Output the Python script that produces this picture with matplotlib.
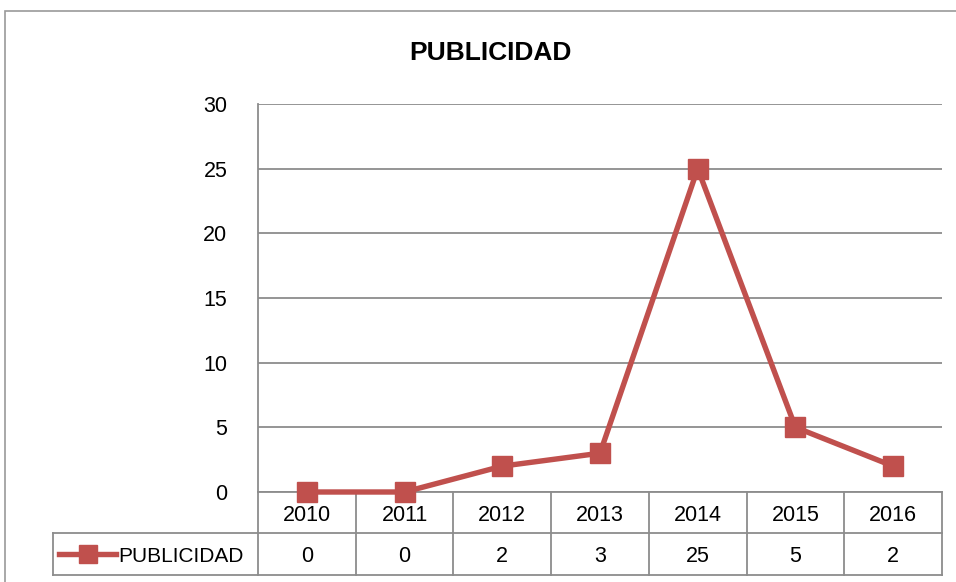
import numpy as np
import matplotlib.pyplot as plt
from matplotlib.patches import Rectangle
from matplotlib.lines import Line2D

# datos
anios = ["2010", "2011", "2012", "2013", "2014", "2015", "2016"]
publicidad = [0, 0, 2, 3, 25, 5, 2]
nombre_serie = "PUBLICIDAD"
titulo = "PUBLICIDAD"
ticks_y = [0, 5, 10, 15, 20, 25, 30]

ROJO = "#C0504D"
GRIS = "#8C8C8C"
FUENTE = "Liberation Sans"

W, H = 956, 582
fig = plt.figure(figsize=(W / 100, H / 100), dpi=100)

# borde exterior del grafico
fig.patches.append(Rectangle((5 / W, -0.05), 1.1, (H - 11) / H + 0.05,
                             transform=fig.transFigure, fill=False,
                             edgecolor="#9A9A9A", lw=1.2))

# area de trazado en pixeles
x0, x1, ytop, ybot = 258, 942, 104, 492
ax = fig.add_axes([x0 / W, (H - ybot) / H, (x1 - x0) / W, (ybot - ytop) / H])

x = np.arange(len(anios))
ax.plot(x, publicidad, color=ROJO, lw=3.9, marker="s", ms=14,
        markeredgecolor=ROJO, solid_joinstyle="miter", clip_on=False, zorder=5)

ax.set_xlim(-0.5, len(anios) - 0.5)
ax.set_ylim(0, 30)
ax.set_yticks(ticks_y)
ax.set_yticklabels([str(t) for t in ticks_y], fontfamily=FUENTE, fontsize=15.5)
ax.tick_params(axis="y", length=0, pad=22)
ax.set_xticks([])
ax.grid(axis="y", color=GRIS, lw=1.3)
ax.set_axisbelow(True)
for lado in ["top", "right", "bottom"]:
    ax.spines[lado].set_visible(False)
ax.spines["left"].set_color(GRIS)
ax.spines["left"].set_linewidth(1.3)

fig.text(490 / W, 1 - 53 / H, titulo, ha="center", va="center",
         fontfamily=FUENTE, fontsize=19, fontweight="bold")

# tabla de datos debajo del eje
alto = ybot - ytop
f1 = -(533 - ybot) / alto
f2 = -(575 - ybot) / alto
izq = (53 - x0) / (x1 - x0)
tr = ax.get_xaxis_transform()
kw = dict(color=GRIS, lw=1.3, clip_on=False)

ax.plot([-0.5, len(anios) - 0.5], [0, 0], transform=tr, **kw)
for i in range(len(anios) + 1):
    ax.plot([i - 0.5, i - 0.5], [0, f2], transform=tr, **kw)
ax.plot([izq, 1], [f1, f1], transform=ax.transAxes, **kw)
ax.plot([izq, 1], [f2, f2], transform=ax.transAxes, **kw)
ax.plot([izq, izq], [f1, f2], transform=ax.transAxes, **kw)

bajar = -3 / alto
for i, (a, v) in enumerate(zip(anios, publicidad)):
    ax.text(i, f1 / 2 + bajar, a, transform=tr, ha="center", va="center",
            fontfamily=FUENTE, fontsize=15.5)
    ax.text(i, (f1 + f2) / 2 + bajar, str(v), transform=tr, ha="center",
            va="center", fontfamily=FUENTE, fontsize=15.5)

# clave de leyenda dentro de la tabla
ym = (f1 + f2) / 2
lx0 = (59 - x0) / (x1 - x0)
lx1 = (116 - x0) / (x1 - x0)
ax.add_line(Line2D([lx0, lx1], [ym, ym], transform=ax.transAxes, color=ROJO,
                   lw=3.9, clip_on=False))
ax.add_line(Line2D([(lx0 + lx1) / 2], [ym], transform=ax.transAxes, color=ROJO,
                   marker="s", ms=12.5, clip_on=False))
ax.text((118 - x0) / (x1 - x0), ym + bajar, nombre_serie, transform=ax.transAxes,
        ha="left", va="center", fontfamily=FUENTE, fontsize=15)

fig.savefig("out.png", dpi=100)
